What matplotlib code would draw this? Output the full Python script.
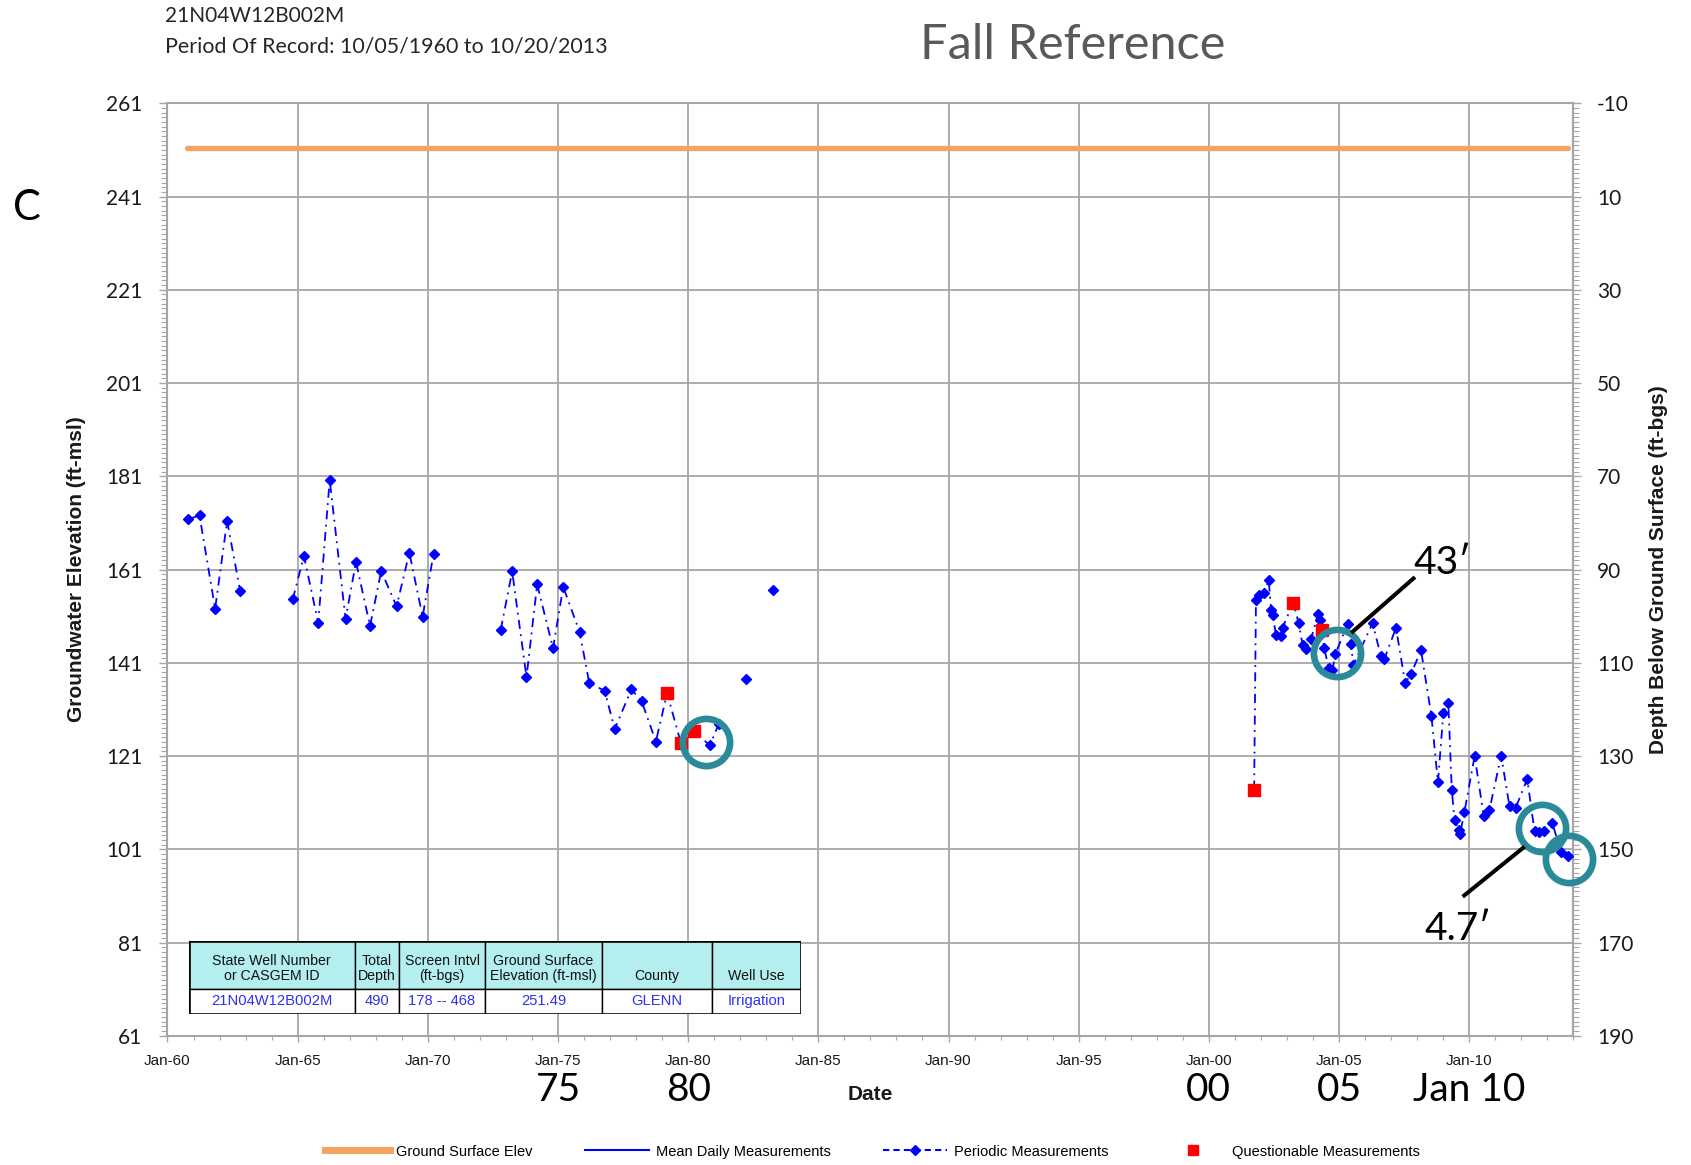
import matplotlib
matplotlib.use('Agg')

import matplotlib.pyplot as plt
from matplotlib.lines import Line2D
from matplotlib.patches import Rectangle
from matplotlib.ticker import MultipleLocator

plt.rcParams['font.family'] = ['Lato', 'DejaVu Sans']
plt.rcParams['axes.unicode_minus'] = False

# well info
well_id = '21N04W12B002M'
period_text = 'Period Of Record: 10/05/1960 to 10/20/2013'
ground_elev = 251.49
ground_dates = [1960.76, 2013.80]

# periodic measurements (decimal year, ft-msl)
periodic_dates = [1960.79, 1961.23, 1961.83, 1962.29, 1962.79,
                  1964.81, 1965.24, 1965.79, 1966.23, 1966.84, 1967.24, 1967.78,
                  1968.21, 1968.80, 1969.29, 1969.80, 1970.22,
                  1972.80, 1973.24, 1973.79, 1974.20, 1974.81, 1975.20, 1975.83,
                  1976.20, 1976.79, 1977.18, 1977.82, 1978.21, 1978.76,
                  1980.83, 1981.17, 1982.22, 1983.24,
                  2001.81, 2001.94, 2002.13, 2002.30, 2002.39, 2002.45, 2002.58,
                  2002.77, 2002.83, 2003.45, 2003.60, 2003.73, 2003.92, 2004.20,
                  2004.27, 2004.43, 2004.60, 2004.75, 2004.86, 2005.33, 2005.46,
                  2005.55, 2006.29, 2006.61, 2006.74, 2007.19, 2007.54, 2007.76,
                  2008.15, 2008.55, 2008.80, 2009.01, 2009.20, 2009.33, 2009.44,
                  2009.60, 2009.65, 2009.82, 2010.21, 2010.56, 2010.78, 2011.23,
                  2011.55, 2011.78, 2012.23, 2012.51, 2012.70, 2012.89, 2013.19,
                  2013.53, 2013.79]
periodic_elev = [171.8, 172.6, 152.6, 171.4, 156.5,
                 154.6, 163.9, 149.6, 180.2, 150.4, 162.6, 148.9,
                 160.7, 153.1, 164.6, 150.9, 164.4,
                 148.1, 160.6, 137.9, 157.8, 144.1, 157.3, 147.6,
                 136.7, 135.0, 126.8, 135.3, 132.8, 124.1,
                 123.3, 127.8, 137.5, 156.7,
                 154.4, 155.6, 156.0, 158.7, 152.4, 151.3, 147.0,
                 146.7, 148.5, 149.5, 144.9, 144.0, 146.0, 151.5,
                 150.2, 144.2, 139.9, 139.5, 142.9, 149.3, 145.1,
                 140.6, 149.5, 142.4, 141.8, 148.5, 136.7, 138.5,
                 143.7, 129.6, 115.4, 130.3, 132.4, 113.8, 107.2,
                 105.2, 104.3, 109.1, 121.0, 108.1, 109.5, 121.1,
                 110.2, 109.8, 116.1, 104.9, 104.7, 105.0, 106.7,
                 100.4, 99.5]

questionable_dates = [1979.19, 1979.72, 1980.21, 2001.74, 2003.24, 2004.35]
questionable_elev = [134.5, 123.8, 126.4, 113.8, 153.9, 148.1]

mean_daily_dates = []
mean_daily_elev = []

table_head = ['State Well Number\nor CASGEM ID', 'Total\nDepth', 'Screen Intvl\n(ft-bgs)',
              'Ground Surface\nElevation (ft-msl)', 'County', 'Well Use']
table_vals = ['21N04W12B002M', '490', '178 -- 468', '251.49', 'GLENN', 'Irrigation']

x_ticks = [1960, 1965, 1970, 1975, 1980, 1985, 1990, 1995, 2000, 2005, 2010]
x_labels = ['Jan-60', 'Jan-65', 'Jan-70', 'Jan-75', 'Jan-80', 'Jan-85', 'Jan-90',
            'Jan-95', 'Jan-00', 'Jan-05', 'Jan-10']
left_ticks = [61, 81, 101, 121, 141, 161, 181, 201, 221, 241, 261]
right_ticks = [-10, 10, 30, 50, 70, 90, 110, 130, 150, 170, 190]
depth_ref = 251

# hand drawn notes
circles = [(1980.69, 124.1), (2004.91, 143.0), (2012.78, 105.6), (2013.85, 98.9)]
note_lines = [([2005.53, 2007.86], [147.7, 159.1]), ([2012.07, 2009.81], [101.3, 91.1])]
note_texts = [(2008.96, 162.5, '43\u2032'), (2009.58, 83.8, '4.7\u2032')]
year_notes = [(1975, '75'), (1980, '80'), (2000, '00'), (2005, '05'), (2010, 'Jan 10')]

grey = '#A6A6A6'
blue = '#0000FF'
teal = '#2B8A9A'

fig = plt.figure(figsize=(16.91, 11.65), dpi=100)
ax = fig.add_axes([0.09905, 0.1109, 0.83135, 0.80043])

ax.plot(ground_dates, [ground_elev, ground_elev], color='#F4A460', lw=3.8,
        solid_capstyle='round', zorder=3)
ax.plot(mean_daily_dates, mean_daily_elev, color=blue, lw=1.5)

# join the periodic + questionable points, break the line at long gaps
pts = sorted(zip(periodic_dates + questionable_dates, periodic_elev + questionable_elev))
segs = [[pts[0]]]
for p in pts[1:]:
    if p[0] - segs[-1][-1][0] > 0.9:
        segs.append([p])
    else:
        segs[-1].append(p)
for s in segs:
    xs, ys = zip(*s)
    ax.plot(xs, ys, color=blue, lw=1.3, ls=(0, (5, 3, 1, 3)), zorder=3)

ax.plot(periodic_dates, periodic_elev, 'D', color=blue, ms=5, zorder=4)
ax.plot(questionable_dates, questionable_elev, 's', color='#FF0000', ms=8, zorder=5)

ax.set_xlim(1960, 2014)
ax.set_ylim(61, 261)
ax.set_xticks(x_ticks)
ax.set_xticklabels(x_labels, family='Liberation Sans', fontsize=11, color='#1a1a1a')
ax.xaxis.set_minor_locator(MultipleLocator(1))
ax.set_yticks(left_ticks)
ax.yaxis.set_minor_locator(MultipleLocator(1))
ax.grid(True, which='major', color=grey, lw=1.3, zorder=0)
ax.set_axisbelow(True)
for sp in ax.spines.values():
    sp.set_color(grey)
    sp.set_linewidth(1.5)
ax.tick_params(axis='y', which='major', direction='out', length=6, width=1,
               color=grey, labelsize=15, pad=12, labelcolor='#1a1a1a')
ax.tick_params(axis='y', which='minor', direction='out', length=4.5, width=0.8, color=grey)
ax.tick_params(axis='x', which='major', direction='out', length=4, width=1,
               color=grey, pad=9)
ax.tick_params(axis='x', which='minor', direction='out', length=3, width=0.8, color=grey)

secax = ax.secondary_yaxis('right', functions=(lambda y: depth_ref - y, lambda d: depth_ref - d))
secax.set_yticks(right_ticks)
secax.yaxis.set_minor_locator(MultipleLocator(1))
secax.spines['right'].set_color(grey)
secax.spines['right'].set_linewidth(1.5)
secax.tick_params(axis='y', which='major', direction='out', length=6, width=1,
                  color=grey, labelsize=15, pad=11, labelcolor='#1a1a1a')
secax.tick_params(axis='y', which='minor', direction='out', length=4.5, width=0.8, color=grey)

ax.set_ylabel('Groundwater Elevation (ft-msl)', family='Liberation Sans', fontsize=15,
              fontweight='bold', color='#1a1a1a')
ax.yaxis.set_label_coords(-0.058, 0.5)
fig.text(0.981, 0.5112, 'Depth Below Ground Surface (ft-bgs)', family='Liberation Sans',
         fontsize=15, fontweight='bold', color='#1a1a1a', rotation=90,
         ha='center', va='center')
ax.set_xlabel('Date', family='Liberation Sans', fontsize=15, fontweight='bold', color='#1a1a1a')
ax.xaxis.set_label_coords(0.5, -0.0527)

# header texts
fig.text(0.0976, 0.9863, well_id, fontsize=15, va='center', ha='left', color='#262626')
fig.text(0.0976, 0.9605, period_text, fontsize=15.4, va='center', ha='left', color='#262626')
fig.text(0.6345, 0.9614, 'Fall Reference', fontsize=35, va='center', ha='center', color='#595959')
fig.text(0.016, 0.8215, 'C', fontsize=30, va='center', ha='center', color='black')

# notes drawn over the chart
for cx, cy in circles:
    ax.plot(cx, cy, 'o', ms=34, mfc='none', mec=teal, mew=4.8, clip_on=False, zorder=7)
for lx, ly in note_lines:
    ax.plot(lx, ly, color='black', lw=2.9, clip_on=False, zorder=7)
for tx, ty, t in note_texts:
    ax.text(tx, ty, t, fontsize=28, ha='center', va='center', zorder=8)
for yr, t in year_notes:
    ax.text(yr, -0.058, t, fontsize=28, ha='center', va='center',
            transform=ax.get_xaxis_transform())

# info table
tab = fig.add_axes([0.1116, 0.1298, 0.3623, 0.0629])
tab.set_xlim(0, 1)
tab.set_ylim(0, 1)
tab.axis('off')
col_edges = [0, 0.271, 0.343, 0.484, 0.674, 0.854, 1]
split = 0.34
for i in range(len(table_head)):
    x0, x1 = col_edges[i], col_edges[i + 1]
    tab.add_patch(Rectangle((x0, split), x1 - x0, 1 - split, facecolor='#B4EEEE',
                            edgecolor='black', lw=1.0))
    tab.add_patch(Rectangle((x0, 0), x1 - x0, split, facecolor='white',
                            edgecolor='black', lw=1.0))
    tab.text((x0 + x1) / 2, split + 0.08, table_head[i], ha='center', va='bottom',
             fontsize=10.2, family='Liberation Sans', linespacing=1.05, color='#111111')
    tab.text((x0 + x1) / 2, split / 2, table_vals[i], ha='center', va='center',
             fontsize=10.6, family='Liberation Sans', color='#3030F0')
tab.add_patch(Rectangle((0, 0), 1, 1, facecolor='none', edgecolor='black', lw=1.8))

# legend along the bottom
handles = [
    Line2D([], [], color='#F4A460', lw=5),
    Line2D([], [], color=blue, lw=1.5),
    Line2D([], [], color=blue, lw=1.5, ls=(0, (3, 2)), marker='D', ms=5),
    Line2D([], [], color='#FF0000', ls='none', marker='s', ms=7),
]
labels = ['Ground Surface Elev', 'Mean Daily Measurements', 'Periodic Measurements',
          'Questionable Measurements']
fig.legend(handles, labels, loc='center', bbox_to_anchor=(0.516, 0.0115), ncol=4,
           frameon=False, prop={'family': 'Liberation Sans', 'size': 10.5},
           handlelength=4.4, handletextpad=0.45, columnspacing=3.6, numpoints=1)

fig.savefig('out.png', dpi=100)
plt.close(fig)
